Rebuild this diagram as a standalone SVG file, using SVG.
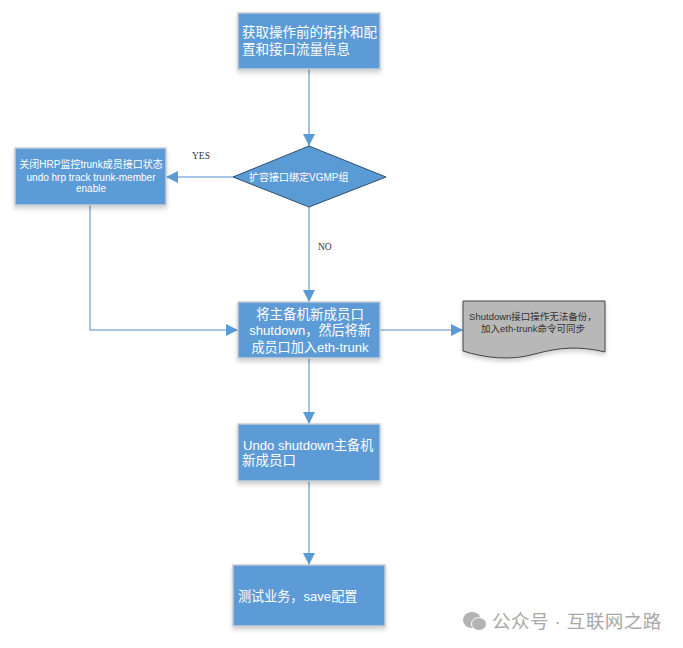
<svg xmlns="http://www.w3.org/2000/svg" width="683" height="648" viewBox="0 0 683 648">
<style>
text{font-family:"Liberation Sans","Noto Sans CJK SC",sans-serif}
.b{fill:#5b9bd5;stroke:#c5ccd6;stroke-width:1.5;filter:url(#s)}
.w{fill:#fff;font-size:13.5px}
.t{font-size:13.1px}
.s{fill:#fff;font-size:10px;text-anchor:middle}
.c{fill:none;stroke:#8fb4dc;stroke-width:1.6}
.l{font-family:"Liberation Serif","Noto Sans CJK SC",serif;font-size:9.5px;fill:#333}
</style>
<defs>
<filter id="s" x="-10%" y="-10%" width="120%" height="130%"><feDropShadow dx="0" dy="3" stdDeviation="2" flood-color="#000" flood-opacity="0.18"/></filter>
<marker id="a" markerUnits="userSpaceOnUse" markerWidth="13" markerHeight="12" refX="12" refY="6" orient="auto"><path d="M0 0L12 6L0 12Z" fill="#5b9bd5"/></marker>
</defs>
<rect width="683" height="648" fill="#fff"/>
<g id="connectors">
<path class="c" d="M309 69V146" marker-end="url(#a)"/>
<path class="c" d="M233 177H166" marker-end="url(#a)"/>
<path class="c" d="M309 207V302" marker-end="url(#a)"/>
<path class="c" d="M90 205V330H238" marker-end="url(#a)"/>
<path class="c" d="M380 330H463" marker-end="url(#a)"/>
<path class="c" d="M309 358V424" marker-end="url(#a)"/>
<path class="c" d="M309 481V565" marker-end="url(#a)"/>
<text class="l" x="192" y="159">YES</text>
<text class="l" x="318" y="250">NO</text>
</g>
<g id="n1"><rect class="b" x="238" y="13" width="142" height="56"/>
<text class="w" x="242" y="37">获取操作前的拓扑和配</text><text class="w" x="242" y="54">置和接口流量信息</text></g>
<g id="n2"><path d="M233 177L309 146L386 177L309 207Z" fill="#5b9bd5" stroke="#2f4f6f" stroke-width="1"/>
<text x="249" y="181" fill="#fff" font-size="10">扩容接口绑定VGMP组</text></g>
<g id="n3"><rect class="b" x="15" y="148" width="151" height="57"/>
<text class="s" x="91" y="168">关闭HRP监控trunk成员接口状态</text><text class="s" x="91" y="181">undo hrp track trunk-member</text><text class="s" x="91" y="192">enable</text></g>
<g id="n4"><rect class="b" x="238" y="302" width="142" height="56"/>
<text class="w" x="310" y="319" text-anchor="middle">将主备机新成员口</text><text class="w t" x="310" y="335" text-anchor="middle">shutdown，然后将新</text><text class="w t" x="310" y="352" text-anchor="middle">成员口加入eth-trunk</text></g>
<g id="n5"><path d="M463 301H605V352C580 346 560 347 535 354C510 361 485 358 463 351Z" fill="#b8b8b8" stroke="#444" stroke-width="1" filter="url(#s)"/>
<text x="533" y="320" fill="#333" font-size="9.5" text-anchor="middle">Shutdown接口操作无法备份，</text><text x="533" y="332" fill="#333" font-size="9.5" text-anchor="middle">加入eth-trunk命令可同步</text></g>
<g id="n6"><rect class="b" x="238" y="424" width="142" height="57"/>
<text class="w t" x="243" y="450">Undo shutdown主备机</text><text class="w" x="242" y="465">新成员口</text></g>
<g id="n7"><rect class="b" x="233" y="565" width="152" height="61"/>
<text class="w t" x="238" y="601">测试业务，save配置</text></g>
<g id="wm" fill="#b3b3b3"><ellipse cx="472" cy="620" rx="9" ry="8"/><ellipse cx="479" cy="624" rx="7.5" ry="6.5" stroke="#fff"/>
<text x="492" y="628" font-size="18.6" fill="#a8a8a8" letter-spacing="0.4">公众号 · 互联网之路</text></g>
</svg>
